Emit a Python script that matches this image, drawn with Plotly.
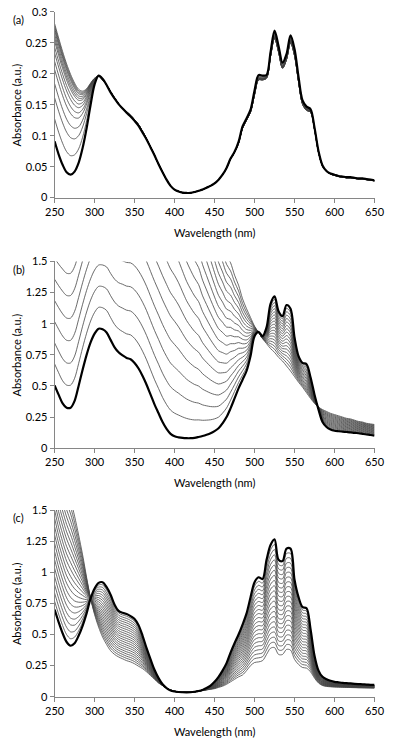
import plotly.graph_objects as go

# ---------------- data ----------------
WL = list(range(250, 655, 5))

# panel (a)
A_END = [0.091, 0.070, 0.053, 0.041, 0.037, 0.042, 0.056, 0.080, 0.112, 0.150,
         0.183, 0.197, 0.192, 0.182, 0.170, 0.160, 0.151, 0.144, 0.137, 0.131,
         0.124, 0.116, 0.105, 0.094, 0.081, 0.068, 0.054, 0.041, 0.029, 0.019,
         0.013, 0.010, 0.008, 0.0075, 0.0078, 0.009, 0.011, 0.013, 0.016, 0.019,
         0.023, 0.029, 0.037, 0.048, 0.063, 0.074, 0.090, 0.115, 0.128, 0.142,
         0.173, 0.198, 0.197, 0.198, 0.235, 0.270, 0.245, 0.218, 0.232, 0.262,
         0.240, 0.195, 0.157, 0.147, 0.143, 0.113, 0.075, 0.052, 0.043, 0.039,
         0.037, 0.035, 0.034, 0.033, 0.033, 0.032, 0.031, 0.031, 0.030, 0.029,
         0.028]
A_START = [0.281, 0.258, 0.236, 0.216, 0.199, 0.185, 0.175, 0.172, 0.176, 0.185,
           0.193, 0.196, 0.190, 0.182, 0.171, 0.161, 0.152, 0.145, 0.139, 0.133,
           0.126, 0.118, 0.107, 0.095, 0.082, 0.068, 0.054, 0.041, 0.029, 0.019,
           0.013, 0.010, 0.008, 0.0075, 0.0078, 0.009, 0.011, 0.013, 0.016, 0.019,
           0.023, 0.029, 0.037, 0.048, 0.062, 0.073, 0.088, 0.112, 0.125, 0.138,
           0.166, 0.190, 0.190, 0.193, 0.228, 0.257, 0.235, 0.209, 0.223, 0.250,
           0.229, 0.187, 0.151, 0.141, 0.138, 0.110, 0.073, 0.051, 0.042, 0.038,
           0.036, 0.034, 0.033, 0.032, 0.032, 0.031, 0.030, 0.030, 0.029, 0.028,
           0.027]
A_FRAC = [0.19, 0.37, 0.49, 0.61, 0.68, 0.75, 0.80, 0.85, 0.88, 0.91, 0.94, 0.96, 0.98, 1.0]

# panel (b)
B_END = [0.505, 0.430, 0.360, 0.325, 0.325, 0.380, 0.500, 0.630, 0.750, 0.850,
         0.920, 0.960, 0.955, 0.930, 0.870, 0.810, 0.770, 0.745, 0.725, 0.715,
         0.685, 0.640, 0.580, 0.510, 0.430, 0.350, 0.280, 0.210, 0.155, 0.115,
         0.095, 0.087, 0.082, 0.080, 0.080, 0.083, 0.090, 0.098, 0.108, 0.120,
         0.137, 0.160, 0.200, 0.250, 0.320, 0.400, 0.480, 0.550, 0.620, 0.740,
         0.900, 0.935, 0.900, 0.970, 1.160, 1.220, 1.100, 1.060, 1.150, 1.120,
         0.890, 0.740, 0.685, 0.675, 0.570, 0.430, 0.310, 0.210, 0.170, 0.150,
         0.140, 0.136, 0.133, 0.130, 0.127, 0.123, 0.120, 0.115, 0.110, 0.106,
         0.100]
B_START = [3.57, 3.58, 3.60, 3.57, 3.57, 3.62, 3.70, 3.78, 3.85, 3.91,
           3.98, 4.02, 4.05, 4.08, 4.07, 4.09, 4.12, 4.17, 4.18, 4.20,
           4.20, 4.17, 4.13, 4.07, 3.99, 3.91, 3.83, 3.74, 3.64, 3.52,
           3.42, 3.28, 3.10, 2.92, 2.78, 2.65, 2.54, 2.35, 2.20, 2.05,
           1.90, 1.76, 1.66, 1.55, 1.49, 1.39, 1.31, 1.20, 1.12, 1.05,
           0.98, 0.93, 0.88, 0.84, 0.80, 0.77, 0.73, 0.70, 0.66, 0.62,
           0.575, 0.53, 0.49, 0.445, 0.40, 0.36, 0.33, 0.31, 0.295, 0.28,
           0.27, 0.26, 0.25, 0.24, 0.235, 0.225, 0.215, 0.21, 0.20, 0.195,
           0.19]
B_FRAC = [0.056, 0.111, 0.167, 0.222, 0.278, 0.333, 0.389, 0.444, 0.5, 0.556,
          0.611, 0.667, 0.722, 0.778, 0.833, 0.889, 0.944, 1.0]

# panel (c)
C_END = [0.700, 0.600, 0.510, 0.440, 0.410, 0.430, 0.490, 0.570, 0.670, 0.790,
         0.870, 0.915, 0.920, 0.880, 0.820, 0.740, 0.690, 0.675, 0.665, 0.648,
         0.625, 0.575, 0.490, 0.390, 0.300, 0.215, 0.150, 0.100, 0.070, 0.050,
         0.042, 0.038, 0.036, 0.035, 0.036, 0.040, 0.046, 0.055, 0.070, 0.090,
         0.120, 0.160, 0.210, 0.270, 0.355, 0.430, 0.500, 0.580, 0.670, 0.800,
         0.920, 0.960, 0.945, 1.100, 1.220, 1.265, 1.100, 1.090, 1.190, 1.190,
         0.940, 0.800, 0.720, 0.712, 0.545, 0.330, 0.210, 0.160, 0.140, 0.128,
         0.120, 0.116, 0.112, 0.109, 0.107, 0.104, 0.102, 0.100, 0.098, 0.096,
         0.095]
C_START = [2.10, 1.93, 1.80, 1.68, 1.58, 1.45, 1.30, 1.14, 0.96, 0.79,
           0.66, 0.56, 0.48, 0.42, 0.37, 0.34, 0.32, 0.305, 0.29, 0.28,
           0.265, 0.245, 0.226, 0.20, 0.17, 0.14, 0.11, 0.09, 0.07, 0.055,
           0.045, 0.040, 0.037, 0.035, 0.036, 0.040, 0.045, 0.050, 0.055, 0.060,
           0.065, 0.075, 0.085, 0.100, 0.120, 0.140, 0.160, 0.175, 0.210, 0.250,
           0.275, 0.280, 0.290, 0.340, 0.390, 0.395, 0.340, 0.340, 0.380, 0.375,
           0.300, 0.260, 0.235, 0.230, 0.200, 0.150, 0.110, 0.090, 0.083, 0.080,
           0.078, 0.077, 0.076, 0.075, 0.074, 0.073, 0.072, 0.0715, 0.071, 0.0705,
           0.070]
C_FRAC = [0.048, 0.095, 0.143, 0.190, 0.238, 0.286, 0.333, 0.381, 0.429, 0.476,
          0.524, 0.571, 0.619, 0.667, 0.714, 0.762, 0.810, 0.857, 0.905, 0.952, 1.0]

LABELS = ["(a)", "(b)", "(c)"]
Y_TICKS = [[0, 0.05, 0.1, 0.15, 0.2, 0.25, 0.3],
           [0, 0.25, 0.5, 0.75, 1, 1.25, 1.5],
           [0, 0.25, 0.5, 0.75, 1, 1.25, 1.5]]
Y_TICKTEXT = [["0", "0.05", "0.1", "0.15", "0.2", "0.25", "0.3"],
              ["0", "0.25", "0.5", "0.75", "1", "1.25", "1.5"],
              ["0", "0.25", "0.5", "0.75", "1", "1.25", "1.5"]]
X_TICKS = [250, 300, 350, 400, 450, 500, 550, 600, 650]

# ---------------- figure ----------------
W, H = 394, 745
FONT = "Lato"
FS = 11
AX_COL = "#868686"

panels = [(A_END, A_START, A_FRAC), (B_END, B_START, B_FRAC), (C_END, C_START, C_FRAC)]
boxes = [(5, 194), (259, 449), (512, 702)]   # plot-area top/bottom in px
xl, xr = 47, 384

fig = go.Figure()
for i, (end, start, fracs) in enumerate(panels):
    xa = "x" if i == 0 else f"x{i+1}"
    ya = "y" if i == 0 else f"y{i+1}"
    for f in fracs:
        yv = [e + f * (s - e) for e, s in zip(end, start)]
        fig.add_trace(go.Scatter(x=WL, y=yv, mode="lines", xaxis=xa, yaxis=ya,
                                 line=dict(color="#454545", width=0.8, shape="spline",
                                           smoothing=0.9),
                                 showlegend=False, hoverinfo="skip"))
    fig.add_trace(go.Scatter(x=WL, y=end, mode="lines", xaxis=xa, yaxis=ya,
                             line=dict(color="black", width=2.2, shape="spline",
                                       smoothing=0.9),
                             showlegend=False, hoverinfo="skip"))

layout = dict(width=W, height=H, margin=dict(l=0, r=0, t=0, b=0),
              paper_bgcolor="white", plot_bgcolor="white",
              font=dict(family=FONT, size=FS, color="black"), annotations=[])
for i, (top, bot) in enumerate(boxes):
    kx = "xaxis" if i == 0 else f"xaxis{i+1}"
    ky = "yaxis" if i == 0 else f"yaxis{i+1}"
    ya = "y" if i == 0 else f"y{i+1}"
    xa = "x" if i == 0 else f"x{i+1}"
    yr = [0, 0.3] if i == 0 else [0, 1.5]
    layout[kx] = dict(domain=[xl / W, xr / W], range=[250, 650], anchor=ya,
                      tickvals=X_TICKS, ticks="outside", ticklen=4, tickcolor=AX_COL,
                      showline=True, linecolor=AX_COL, linewidth=1, showgrid=False,
                      zeroline=False, tickfont=dict(family=FONT, size=FS),
                      ticklabeloverflow="allow")
    layout[ky] = dict(domain=[1 - bot / H, 1 - top / H], range=yr, anchor=xa,
                      tickvals=Y_TICKS[i], ticktext=Y_TICKTEXT[i], ticks="outside",
                      ticklen=4, tickcolor=AX_COL, showline=True, linecolor=AX_COL,
                      linewidth=1, showgrid=False, zeroline=False,
                      tickfont=dict(family=FONT, size=FS), ticklabeloverflow="allow")
    layout["annotations"] += [
        dict(text=LABELS[i], x=1 / W, y=1 - (top + 8) / H, xref="paper", yref="paper",
             xanchor="left", yanchor="middle", showarrow=False,
             font=dict(family=FONT, size=FS)),
        dict(text="Absorbance (a.u.)", x=7 / W, y=1 - ((top + bot) / 2) / H,
             xref="paper", yref="paper", xanchor="center", yanchor="middle",
             textangle=-90, showarrow=False, font=dict(family=FONT, size=FS)),
        dict(text="Wavelength (nm)", x=215 / W, y=1 - (bot + 35) / H,
             xref="paper", yref="paper", xanchor="center", yanchor="middle",
             showarrow=False, font=dict(family=FONT, size=FS)),
    ]

fig.update_layout(**layout)
fig.write_html("out.html", config={"displayModeBar": False},
               post_script="document.body.style.margin='0';document.body.style.overflow='hidden';")
